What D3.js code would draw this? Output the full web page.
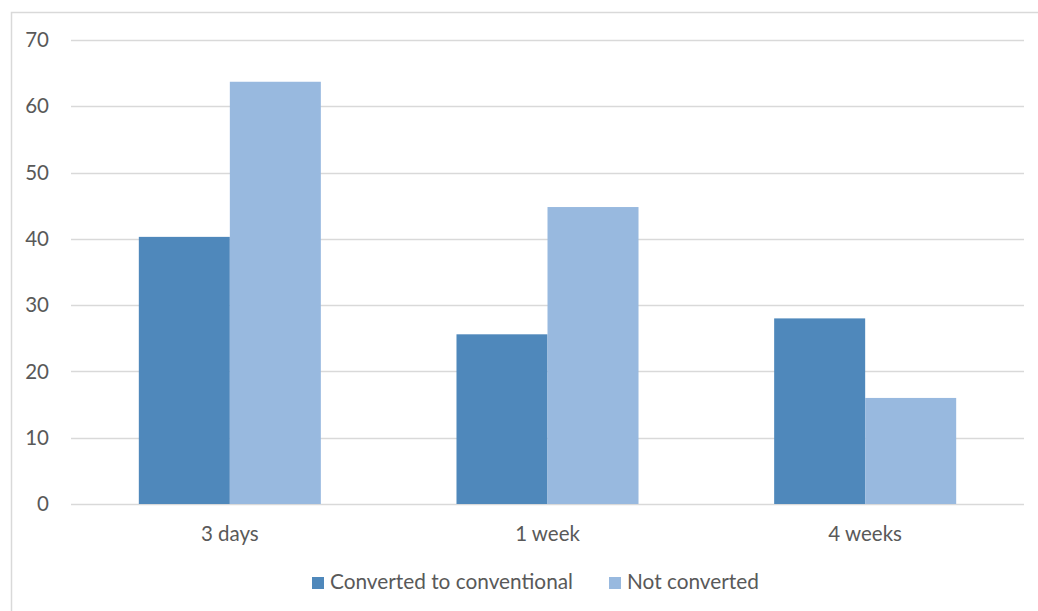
<!DOCTYPE html>
<html>
<head>
<meta charset="utf-8">
<script src="https://cdn.jsdelivr.net/npm/d3@7/dist/d3.min.js"></script>
<style>
  html, body { margin: 0; padding: 0; background: #fff; }
  svg { display: block; }
  text { font-family: Lato, "Open Sans", sans-serif; fill: #595959; }
</style>
</head>
<body>
<svg id="chart" width="1038" height="611"></svg>
<script>
// Categories, series and axis ticks
const categories = ["3 days", "1 week", "4 weeks"];
const seriesNames = ["Converted to conventional", "Not converted"];
const converted = [40.3, 25.6, 28];
const notConverted = [63.7, 44.8, 16];
const yTicks = [0, 10, 20, 30, 40, 50, 60, 70];
const colors = ["#4f88bb", "#98b9df"];

const svg = d3.select("#chart");
const W = 1038, H = 611;

// Outer chart frame
svg.append("rect")
  .attr("x", 11.5).attr("y", 12.5)
  .attr("width", W + 20).attr("height", H + 20)
  .attr("fill", "#fff")
  .attr("stroke", "#d9d9d9").attr("stroke-width", 1.5);

const plot = { left: 71, right: 1024, top: 40, bottom: 504 };

const x = d3.scaleBand().domain(categories)
  .range([plot.left, plot.right]).paddingInner(0).paddingOuter(0);
const y = d3.scaleLinear().domain([0, 70]).range([plot.bottom, plot.top]);

// Horizontal gridlines
svg.append("g").selectAll("line").data(yTicks).join("line")
  .attr("x1", plot.left).attr("x2", plot.right)
  .attr("y1", d => Math.round(y(d)) + 0.5).attr("y2", d => Math.round(y(d)) + 0.5)
  .attr("stroke", "#d9d9d9").attr("stroke-width", 1.3);

// Y axis labels
svg.append("g").selectAll("text").data(yTicks).join("text")
  .attr("x", 49).attr("y", d => y(d))
  .attr("dy", "0.35em")
  .attr("text-anchor", "end")
  .attr("font-size", 20.5)
  .text(d => d);

// Bars, grouped inside each band
const groupFrac = 0.573;
const inner = d3.scaleBand().domain(seriesNames)
  .range([0, x.bandwidth() * groupFrac]).padding(0);
const offset = x.bandwidth() * (1 - groupFrac) / 2;

const rows = categories.map((c, i) => ({ cat: c, vals: [converted[i], notConverted[i]] }));
const groups = svg.append("g").selectAll("g").data(rows).join("g")
  .attr("transform", d => `translate(${x(d.cat) + offset},0)`);
groups.selectAll("rect")
  .data(d => d.vals.map((v, j) => ({ name: seriesNames[j], v, j })))
  .join("rect")
  .attr("x", d => inner(d.name))
  .attr("width", inner.bandwidth())
  .attr("y", d => y(d.v))
  .attr("height", d => y(0) - y(d.v))
  .attr("fill", d => colors[d.j]);

// Category labels
svg.append("g").selectAll("text").data(categories).join("text")
  .attr("x", d => x(d) + x.bandwidth() / 2)
  .attr("y", 541)
  .attr("text-anchor", "middle")
  .attr("font-size", 20.5)
  .text(d => d);

// Legend
const legendItems = [
  { name: seriesNames[0], color: colors[0], x: 312 },
  { name: seriesNames[1], color: colors[1], x: 609 }
];
const lg = svg.append("g").selectAll("g").data(legendItems).join("g")
  .attr("transform", d => `translate(${d.x},0)`);
lg.append("rect")
  .attr("x", 0).attr("y", 577).attr("width", 12).attr("height", 12)
  .attr("fill", d => d.color);
lg.append("text")
  .attr("x", 18).attr("y", 589)
  .attr("font-size", 20.8)
  .text(d => d.name);
</script>
</body>
</html>
